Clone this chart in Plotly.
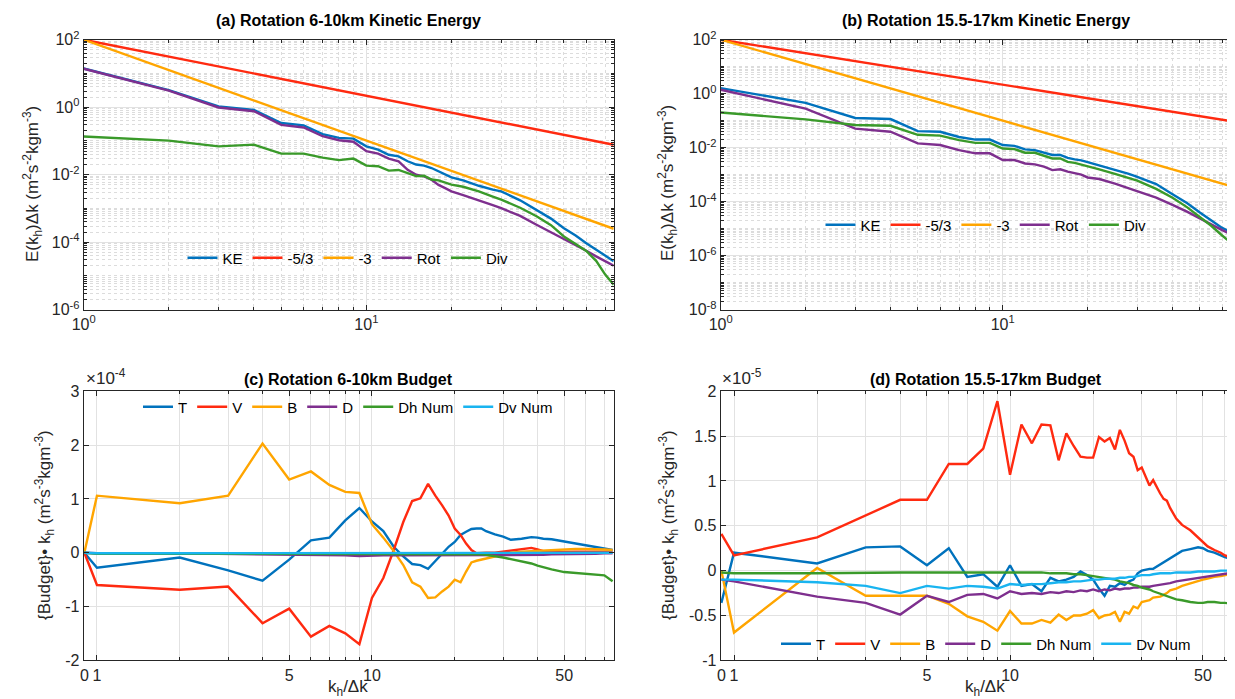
import math
import plotly.graph_objects as go

# ---------------- data ----------------
K_TOP = [1, 2, 3, 4, 5, 6, 7, 8, 9, 10, 11, 12, 13, 14, 15, 16, 17, 18, 19, 20,
         22, 25, 28, 30, 35, 40, 45, 50, 55, 60, 65, 70, 75]

KE_A = [14, 3.2, 1.05, 0.83, 0.34, 0.29, 0.16, 0.123, 0.117, 0.069,
        0.055, 0.039, 0.035, 0.025, 0.020, 0.0186, 0.0158, 0.0126, 0.0105, 0.0083,
        0.0068, 0.0047, 0.0036, 0.0032, 0.00174, 9.1e-4, 5.0e-4, 2.6e-4, 1.58e-4,
        9.3e-5, 6.0e-5, 3.9e-5, 2.75e-5]
ROT_A = [13.8, 3.1, 0.98, 0.76, 0.30, 0.25, 0.138, 0.105, 0.095, 0.050,
         0.042, 0.030, 0.025, 0.014, 0.010, 0.0089, 0.0071, 0.0050, 0.0040, 0.0032,
         0.0025, 0.00178, 0.00126, 0.00102, 6.0e-4, 3.3e-4, 2.0e-4, 1.26e-4, 8.5e-5,
         5.6e-5, 3.8e-5, 2.7e-5, 2.0e-5]
DIV_A = [0.135, 0.102, 0.069, 0.078, 0.042, 0.042, 0.032, 0.027, 0.030, 0.0186,
         0.0178, 0.0132, 0.0138, 0.0112, 0.0091, 0.0093, 0.0072, 0.0068, 0.0060, 0.0051,
         0.0044, 0.0032, 0.00224, 0.00182, 0.00105, 5.9e-4, 3.2e-4, 1.48e-4, 8.9e-5,
         5.5e-5, 2.8e-5, 1.1e-5, 5.5e-6]

KE_B = [1.6, 0.46, 0.126, 0.115, 0.041, 0.039, 0.025, 0.020, 0.020, 0.0126,
        0.0117, 0.0087, 0.0081, 0.0065, 0.0054, 0.0054, 0.0042, 0.0037, 0.0034, 0.0029,
        0.0022, 0.0015, 0.00107, 8.3e-4, 4.5e-4, 1.9e-4, 8.9e-5, 4.0e-5, 2.0e-5,
        1.07e-5, 7.1e-6, 5.0e-6, 3.5e-6]
ROT_B = [1.4, 0.28, 0.051, 0.039, 0.0145, 0.0126, 0.0081, 0.0062, 0.0062, 0.0035,
         0.0035, 0.0026, 0.0024, 0.0020, 0.00148, 0.00158, 0.00129, 0.00112, 0.0010, 7.9e-4,
         6.9e-4, 4.7e-4, 3.2e-4, 2.5e-4, 1.41e-4, 7.6e-5, 4.3e-5, 2.4e-5, 1.41e-5,
         8.9e-6, 6.0e-6, 4.2e-6, 3.2e-6]
DIV_B = [0.2, 0.112, 0.069, 0.065, 0.030, 0.028, 0.019, 0.0151, 0.0151, 0.0093,
         0.0089, 0.0065, 0.0065, 0.0050, 0.0040, 0.0040, 0.0030, 0.00275, 0.0024, 0.0021,
         0.00158, 0.00107, 7.6e-4, 6.0e-4, 3.0e-4, 1.41e-4, 6.3e-5, 2.8e-5, 1.26e-5,
         5.6e-6, 2.8e-6, 1.41e-6, 7.9e-7]

# power-law reference lines (end points)
REF_K = [1, 75]
SLOPE53_A = [100, 0.077]
SLOPE3_A = [100, 2.5e-4]
SLOPE53_B = [100, 0.075]
SLOPE3_B = [100, 2.4e-4]

# budget panels (values in units of the axis multiplier)
K0_POS = 0.9  # where wavenumber 0 sits on the log axis
K_C = [0, 1, 2, 3, 4, 5, 6, 7, 8, 9, 10, 11, 12, 13, 14, 15, 16, 17, 18, 19, 20,
       21, 22, 23, 24, 25, 26, 28, 30, 32, 35, 38, 40, 42, 45, 50, 55, 60, 65, 70, 75]
T_C = [0, -0.28, -0.09, -0.33, -0.52, -0.13, 0.23, 0.28, 0.60, 0.83,
       0.58, 0.40, 0.11, -0.07, -0.21, -0.23, -0.30, -0.15, -0.01, 0.11,
       0.20, 0.33, 0.39, 0.44, 0.45, 0.45,
       0.40, 0.34, 0.30, 0.24, 0.26, 0.29, 0.28, 0.26, 0.25, 0.21, 0.17, 0.13, 0.10, 0.07, 0.05]
V_C = [0, -0.60, -0.69, -0.63, -1.31, -1.04, -1.56, -1.36, -1.50, -1.70,
       -0.84, -0.47, 0.05, 0.57, 0.96, 1.01, 1.28, 1.06, 0.88, 0.69,
       0.45, 0.33, 0.17, 0.05, -0.01, 0.0,
       0.0, 0.0, 0.02, 0.04, 0.06, 0.09, 0.06, 0.03, 0.01, 0.02, 0.02, 0.02, 0.02, 0.02, 0.02]
B_C = [0, 1.06, 0.92, 1.06, 2.03, 1.36, 1.51, 1.26, 1.13, 1.11,
       0.53, 0.28, 0.03, -0.23, -0.55, -0.63, -0.84, -0.83, -0.72, -0.63,
       -0.50, -0.55, -0.35, -0.18, -0.15, -0.13,
       -0.10, -0.07, -0.03, 0.0, 0.02, 0.03, 0.03, 0.04, 0.05, 0.07, 0.07, 0.07, 0.07, 0.06, 0.05]
D_C = [0, -0.01, -0.01, -0.02, -0.02, -0.03, -0.03, -0.04, -0.05, -0.06,
       -0.05, -0.05, -0.05, -0.05, -0.05, -0.05, -0.05, -0.05, -0.05, -0.05,
       -0.05, -0.05, -0.05, -0.05, -0.05, -0.05,
       -0.05, -0.05, -0.05, -0.05, -0.04, -0.04, -0.04, -0.04, -0.03, -0.03, -0.03, -0.02, -0.02, -0.01, -0.01]
DH_C = [0, -0.02, -0.02, -0.02, -0.02, -0.02, -0.02, -0.02, -0.02, -0.02,
        -0.02, -0.02, -0.02, -0.02, -0.02, -0.02, -0.02, -0.02, -0.02, -0.02,
        -0.02, -0.02, -0.02, -0.03, -0.03, -0.03,
        -0.04, -0.06, -0.09, -0.12, -0.16, -0.20, -0.24, -0.27, -0.31, -0.36, -0.38, -0.39, -0.41, -0.42, -0.53]
DV_C = [0, -0.01, -0.01, -0.01, -0.01, -0.01, -0.01, -0.01, -0.01, -0.01,
        -0.01, -0.01, -0.01, -0.01, -0.01, -0.01, -0.01, -0.01, -0.01, -0.01,
        -0.01, -0.01, -0.01, -0.01, -0.01, -0.01,
        -0.01, -0.01, -0.01, -0.01, -0.01, -0.01, -0.01, -0.01, -0.01, -0.01, -0.01, 0.0, 0.0, 0.0, 0.0]

K_D = [0, 1, 2, 3, 4, 5, 6, 7, 8, 9, 10, 11, 12, 13, 14, 15, 16, 17, 18, 19, 20,
       21, 22, 23, 24, 25, 26, 27, 28, 29, 30,
       32, 33, 35, 36, 37, 38, 40, 42, 45, 48, 50, 52, 55, 58, 60, 65, 70, 75]
V_D = [0.41, 0.17, 0.37, 0.62, 0.79, 0.79, 1.19, 1.19, 1.36, 1.89,
       1.07, 1.63, 1.42, 1.63, 1.62, 1.23, 1.53, 1.39, 1.27, 1.26,
       1.26, 1.49, 1.44, 1.48, 1.35, 1.57, 1.45, 1.31, 1.27, 1.12, 1.15,
       0.95, 1.01, 0.86, 0.80, 0.78, 0.70, 0.58, 0.51, 0.45, 0.37, 0.31, 0.27, 0.23, 0.20, 0.17, 0.13, 0.10, 0.08]
T_D = [-0.36, 0.20, 0.08, 0.26, 0.27, 0.06, 0.25, -0.07, -0.04, -0.18,
       0.06, -0.17, -0.15, -0.23, -0.08, -0.12, -0.10, -0.07, -0.01, -0.05,
       -0.10, -0.20, -0.28, -0.17, -0.18, -0.14, -0.16, -0.12, -0.10, -0.03, 0.0,
       0.02, 0.02, 0.07, 0.09, 0.12, 0.14, 0.18, 0.22, 0.24, 0.26, 0.25, 0.22, 0.20, 0.17, 0.15, 0.12, 0.10, 0.08]
B_D = [0.0, -0.69, 0.03, -0.28, -0.28, -0.28, -0.37, -0.51, -0.57, -0.67,
       -0.45, -0.59, -0.59, -0.55, -0.58, -0.49, -0.55, -0.50, -0.50, -0.48,
       -0.44, -0.53, -0.50, -0.49, -0.46, -0.57, -0.46, -0.48, -0.40, -0.42, -0.35,
       -0.33, -0.30, -0.29, -0.27, -0.25, -0.22, -0.20, -0.17, -0.14, -0.11, -0.10, -0.09, -0.07, -0.06, -0.05, -0.03, -0.02, -0.01]
D_D = [-0.10, -0.12, -0.29, -0.36, -0.49, -0.28, -0.35, -0.27, -0.26, -0.31,
       -0.23, -0.26, -0.25, -0.26, -0.24, -0.25, -0.23, -0.24, -0.22, -0.23,
       -0.21, -0.23, -0.21, -0.22, -0.20, -0.21, -0.20, -0.20, -0.19, -0.19, -0.18,
       -0.18, -0.17, -0.16, -0.15, -0.15, -0.14, -0.12, -0.11, -0.09, -0.08, -0.07, -0.06, -0.05, -0.04, -0.03, -0.02, -0.01, 0.0]
DH_D = [-0.02, -0.03, -0.03, -0.02, -0.02, -0.02, -0.02, -0.02, -0.02, -0.02,
        -0.02, -0.02, -0.02, -0.02, -0.03, -0.03, -0.03, -0.04, -0.04, -0.05,
        -0.06, -0.07, -0.08, -0.09, -0.10, -0.12, -0.13, -0.14, -0.16, -0.17, -0.19,
        -0.21, -0.23, -0.26, -0.27, -0.28, -0.30, -0.32, -0.33, -0.35, -0.36, -0.36, -0.35, -0.35, -0.36, -0.36, -0.37, -0.39, -0.41]
DV_D = [-0.10, -0.10, -0.13, -0.17, -0.25, -0.17, -0.20, -0.17, -0.18, -0.20,
        -0.15, -0.16, -0.15, -0.15, -0.14, -0.13, -0.13, -0.12, -0.12, -0.11,
        -0.10, -0.10, -0.09, -0.09, -0.09, -0.08, -0.08, -0.07, -0.07, -0.06, -0.05,
        -0.05, -0.04, -0.03, -0.03, -0.03, -0.03, -0.02, -0.02, -0.02, -0.01, -0.01, -0.01, -0.01, 0.0, 0.0, 0.0, 0.0, 0.0]

TITLES = ["(a) Rotation 6-10km Kinetic Energy", "(b) Rotation 15.5-17km Kinetic Energy",
          "(c) Rotation 6-10km Budget", "(d) Rotation 15.5-17km Budget"]
SPEC_NAMES = ["KE", "-5/3", "-3", "Rot", "Div"]
BUDGET_NAMES = ["T", "V", "B", "D", "Dh Num", "Dv Num"]
EXP_C = "×10<sup>-4</sup>"
EXP_D = "×10<sup>-5</sup>"

# ---------------- styling ----------------
W, H = 1235, 699
FONT = "Liberation Sans, Arial, Helvetica, sans-serif"
INK = "#262626"
BLUE, RED, ORANGE = "#0072BD", "#FF2A10", "#FFA500"
PURPLE, GREEN, CYAN = "#7E2F8E", "#3A9A2A", "#19B4F0"
GRID, MINGRID = "#e2e2e2", "#dcdcdc"
LW = 2.4


def px(p):
    return p / W


def py(p):
    return 1 - p / H


fig = go.Figure()


def add(x, y, name, color, xa, ya, leg):
    fig.add_trace(go.Scatter(x=x, y=y, mode="lines", name=name,
                             line=dict(color=color, width=LW),
                             xaxis=xa, yaxis=ya, legend=leg, hoverinfo="skip"))


# (a)
add(K_TOP, KE_A, SPEC_NAMES[0], BLUE, "x", "y", "legend")
add(REF_K, SLOPE53_A, SPEC_NAMES[1], RED, "x", "y", "legend")
add(REF_K, SLOPE3_A, SPEC_NAMES[2], ORANGE, "x", "y", "legend")
add(K_TOP, ROT_A, SPEC_NAMES[3], PURPLE, "x", "y", "legend")
add(K_TOP, DIV_A, SPEC_NAMES[4], GREEN, "x", "y", "legend")
# (b)
add(K_TOP, KE_B, SPEC_NAMES[0], BLUE, "x2", "y2", "legend2")
add(REF_K, SLOPE53_B, SPEC_NAMES[1], RED, "x2", "y2", "legend2")
add(REF_K, SLOPE3_B, SPEC_NAMES[2], ORANGE, "x2", "y2", "legend2")
add(K_TOP, ROT_B, SPEC_NAMES[3], PURPLE, "x2", "y2", "legend2")
add(K_TOP, DIV_B, SPEC_NAMES[4], GREEN, "x2", "y2", "legend2")

XC = [K0_POS if k == 0 else k for k in K_C]
XD = [K0_POS if k == 0 else k for k in K_D]
bcols = [BLUE, RED, ORANGE, PURPLE, GREEN, CYAN]
for name, col, ys in zip(BUDGET_NAMES, bcols, [T_C, V_C, B_C, D_C, DH_C, DV_C]):
    add(XC, ys, name, col, "x3", "y3", "legend3")
for name, col, ys in zip(BUDGET_NAMES, bcols, [T_D, V_D, B_D, D_D, DH_D, DV_D]):
    add(XD, ys, name, col, "x4", "y4", "legend4")

tickfont = dict(family=FONT, size=16, color=INK)
base = dict(showline=True, linecolor=INK, linewidth=1, mirror="ticks", ticks="inside",
            ticklen=5, tickcolor=INK, tickfont=tickfont, showgrid=True, automargin=False,
            gridcolor=GRID, gridwidth=1, zeroline=False, fixedrange=True)

x_minor_log = [2, 3, 4, 5, 6, 7, 8, 9, 20, 30, 40, 50, 60, 70]


def y_minor(lo, hi):
    vals = []
    for e in range(lo, hi):
        for m in range(1, 10):
            if m == 1 and e % 2 == 0:
                continue
            vals.append(m * 10 ** e)
    return vals


def sup(e):
    return "10<sup>%d</sup>" % e


XD_TOP_L = [px(75.7), px(605.7)]
XD_TOP_R = [px(712.7), 1.0]
YD_TOP = [py(301.7), py(31.7)]
YD_BOT = [py(652.3), py(383.3)]

minor_log_x = dict(tickvals=x_minor_log, showgrid=True, griddash="dot", gridcolor=MINGRID,
                   ticks="inside", ticklen=3, tickcolor=INK)

fig.update_layout(
    xaxis=dict(base, type="log", domain=XD_TOP_L, anchor="y", range=[0, math.log10(75)],
               tickvals=[1, 10], ticktext=[sup(0), sup(1)], minor=minor_log_x),
    yaxis=dict(base, type="log", domain=YD_TOP, anchor="x", range=[-6, 2],
               tickvals=[1e-6, 1e-4, 1e-2, 1, 100], ticktext=[sup(e) for e in [-6, -4, -2, 0, 2]],
               minor=dict(tickvals=y_minor(-6, 2), showgrid=True, griddash="dot",
                          gridcolor=MINGRID, ticks="inside", ticklen=3, tickcolor=INK)),
    xaxis2=dict(base, type="log", domain=XD_TOP_R, anchor="y2", range=[0, 1.852],
                tickvals=[1, 10], ticktext=[sup(0), sup(1)], minor=minor_log_x),
    yaxis2=dict(base, type="log", domain=YD_TOP, anchor="x2", range=[-8, 2],
                tickvals=[1e-8, 1e-6, 1e-4, 1e-2, 1, 100],
                ticktext=[sup(e) for e in [-8, -6, -4, -2, 0, 2]],
                minor=dict(tickvals=y_minor(-8, 2), showgrid=True, griddash="dot",
                           gridcolor=MINGRID, ticks="inside", ticklen=3, tickcolor=INK)),
    xaxis3=dict(base, type="log", domain=XD_TOP_L, anchor="y3",
                range=[math.log10(0.895), math.log10(75.7)],
                tickvals=[K0_POS, 1, 5, 10, 50], ticktext=["0", "1", "5", "10", "50"],
                minor=dict(tickvals=[2, 3, 4, 6, 7, 8, 9, 20, 30, 40, 60, 70], showgrid=True,
                           gridcolor=GRID, ticks="inside", ticklen=3, tickcolor=INK)),
    yaxis3=dict(base, domain=YD_BOT, anchor="x3", range=[-2, 3],
                tickvals=[-2, -1, 0, 1, 2, 3], ticktext=["-2", "-1", "0", "1", "2", "3"]),
    xaxis4=dict(base, type="log", domain=XD_TOP_R, anchor="y4",
                range=[math.log10(0.895), 1.844],
                tickvals=[K0_POS, 1, 5, 10, 50], ticktext=["0", "1", "5", "10", "50"],
                minor=dict(tickvals=[2, 3, 4, 6, 7, 8, 9, 20, 30, 40, 60, 70], showgrid=True,
                           gridcolor=GRID, ticks="inside", ticklen=3, tickcolor=INK)),
    yaxis4=dict(base, domain=YD_BOT, anchor="x4", range=[-1, 2],
                tickvals=[-1, -0.5, 0, 0.5, 1, 1.5, 2],
                ticktext=["-1", "-0.5", "0", "0.5", "1", "1.5", "2"]),
)

legfont = dict(family=FONT, size=15, color="#000000")
legbase = dict(orientation="h", xanchor="center", yanchor="middle", bgcolor="rgba(0,0,0,0)",
               borderwidth=0, font=legfont, itemwidth=30, tracegroupgap=0)
fig.update_layout(
    legend=dict(legbase, x=px(340), y=py(250)),
    legend2=dict(legbase, x=px(978), y=py(217)),
    legend3=dict(legbase, x=px(340), y=py(399)),
    legend4=dict(legbase, x=px(978), y=py(636)),
)

ann = []


def text(x, y, s, size=16, bold=False, angle=0, xanchor="center", yanchor="middle"):
    ann.append(dict(x=px(x), y=py(y), xref="paper", yref="paper", text=("<b>%s</b>" % s) if bold else s,
                    showarrow=False, textangle=angle, xanchor=xanchor, yanchor=yanchor,
                    font=dict(family=FONT, size=size, color="#000000" if bold else INK)))


text(340.7, 13, TITLES[0], size=16, bold=True)
text(978, 13, TITLES[1], size=16, bold=True)
text(340.7, 371, TITLES[2], size=16, bold=True)
text(978, 371, TITLES[3], size=16, bold=True)

ytitle_top = "E(k<sub>h</sub>)Δk (m<sup>2</sup>s<sup>-2</sup>kgm<sup>-3</sup>)"
ytitle_bot = "{Budget}• k<sub>h</sub> (m<sup>2</sup>s<sup>-3</sup>kgm<sup>-3</sup>)"
text(24, 176, ytitle_top, size=17, angle=-90)
text(659, 175, ytitle_top, size=17, angle=-90)
text(36, 517, ytitle_bot, size=17, angle=-90)
text(660, 517, ytitle_bot, size=17, angle=-90)
text(340, 680, "k<sub>h</sub>/Δk", size=17)
text(977, 680, "k<sub>h</sub>/Δk", size=17)
text(76, 382, EXP_C, size=17, xanchor="left", yanchor="bottom")
text(712, 382, EXP_D, size=17, xanchor="left", yanchor="bottom")

fig.update_layout(annotations=ann, width=W, height=H, margin=dict(l=0, r=0, t=0, b=0),
                  paper_bgcolor="white", plot_bgcolor="white", font=dict(family=FONT, color=INK),
                  showlegend=True)

fig.write_html("out.html", include_plotlyjs=True, config={"displayModeBar": False})
